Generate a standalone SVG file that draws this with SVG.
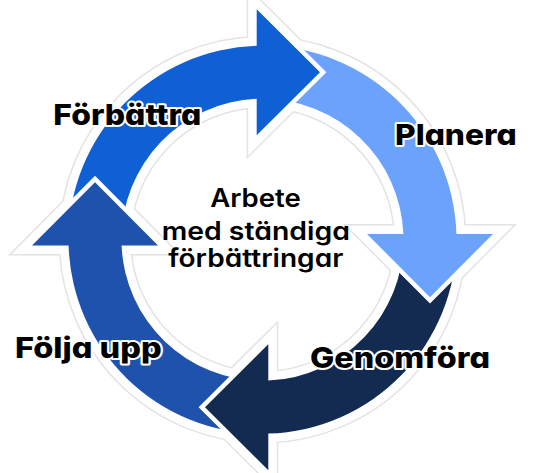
<svg xmlns="http://www.w3.org/2000/svg" xmlns:xlink="http://www.w3.org/1999/xlink" width="533" height="473" viewBox="0 0 533 473">
  <style>
    .halo-out { fill: #e3e3e3; stroke: #e3e3e3; stroke-width: 20; stroke-linejoin: miter; }
    .halo-in { fill: #ffffff; stroke: #ffffff; stroke-width: 17; stroke-linejoin: miter; }
    .arrow { stroke: #ffffff; stroke-width: 9; stroke-linejoin: miter; paint-order: stroke; }
    .label { font-family: Inter, "Liberation Sans", sans-serif; font-weight: 800; fill: #000000; stroke: #ffffff; stroke-width: 4; stroke-linejoin: round; paint-order: stroke; font-feature-settings: "cv11"; }
    .center { font-family: Inter, "Liberation Sans", sans-serif; font-weight: 600; font-size: 25px; fill: #000000; text-anchor: middle; font-feature-settings: "cv11"; }
  </style>
  <defs>
    <path id="arrowShape" d="M 68.5 239.7 A 194 194 0 0 1 256.7 45.8 L 256.7 9.2 L 320 72.2 L 256.7 135.2 L 256.7 98.8 A 141 141 0 0 0 121.5 239.7 Z"/>
    <clipPath id="clipFolja">
      <rect x="0" y="0" width="262" height="300"/>
    </clipPath>
  </defs>
  <rect width="533" height="473" fill="#ffffff"/>
  <g id="halo">
    <use xlink:href="#arrowShape" class="halo-out"/>
    <use xlink:href="#arrowShape" class="halo-out" transform="rotate(90 262.5 239.7)"/>
    <use xlink:href="#arrowShape" class="halo-out" transform="rotate(180 262.5 239.7)"/>
    <use xlink:href="#arrowShape" class="halo-out" transform="rotate(270 262.5 239.7)"/>
    <use xlink:href="#arrowShape" class="halo-in"/>
    <use xlink:href="#arrowShape" class="halo-in" transform="rotate(90 262.5 239.7)"/>
    <use xlink:href="#arrowShape" class="halo-in" transform="rotate(180 262.5 239.7)"/>
    <use xlink:href="#arrowShape" class="halo-in" transform="rotate(270 262.5 239.7)"/>
  </g>
  <g id="folja-upp">
    <use xlink:href="#arrowShape" class="arrow" fill="#1f52ad" transform="rotate(270 262.5 239.7)"/>
  </g>
  <g id="genomfora">
    <use xlink:href="#arrowShape" class="arrow" fill="#132a51" transform="rotate(180 262.5 239.7)"/>
  </g>
  <g id="planera">
    <use xlink:href="#arrowShape" class="arrow" fill="#6ba3fc" transform="rotate(90 262.5 239.7)"/>
  </g>
  <g id="forbattra">
    <use xlink:href="#arrowShape" class="arrow" fill="#0f5fd5"/>
  </g>
  <g id="folja-upp-head" clip-path="url(#clipFolja)">
    <use xlink:href="#arrowShape" class="arrow" fill="#1f52ad" transform="rotate(270 262.5 239.7)"/>
  </g>
  <g id="labels">
    <text class="label" x="53.3" y="125" font-size="29" textLength="148" lengthAdjust="spacingAndGlyphs">Förbättra</text>
    <text class="label" x="395" y="145" font-size="29" textLength="121.7" lengthAdjust="spacingAndGlyphs">Planera</text>
    <text class="label" x="310" y="368.3" font-size="29" textLength="180" lengthAdjust="spacingAndGlyphs">Genomföra</text>
    <text class="label" x="15" y="358.3" font-size="28" textLength="146.7" lengthAdjust="spacingAndGlyphs">Följa upp</text>
  </g>
  <g id="center">
    <text class="center" x="255.5" y="206.7" textLength="90.7" lengthAdjust="spacingAndGlyphs">Arbete</text>
    <text class="center" x="255.8" y="239.5" textLength="188.3" lengthAdjust="spacingAndGlyphs">med ständiga</text>
    <text class="center" x="255.8" y="267.2" textLength="175" lengthAdjust="spacingAndGlyphs">förbättringar</text>
  </g>
</svg>
